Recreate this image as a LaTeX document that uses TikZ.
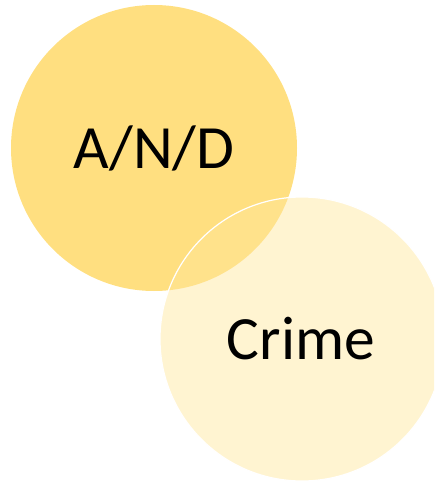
\documentclass[tikz,border=0pt]{standalone}
\usepackage{fontspec}
\setmainfont{Carlito}
\definecolor{gold}{HTML}{FFDF80}
\definecolor{paleg}{HTML}{FFE699}
\tikzset{
  lbl/.style={font=\fontsize{61.5}{64}\selectfont, text=black},
}
\begin{document}
\begin{tikzpicture}[x=1pt,y=-1pt]
\useasboundingbox (0,0) rectangle (434,481);
\clip (0,0) rectangle (434,481);
\fill[gold] (154,148) circle[radius=143];
\fill[paleg, fill opacity=0.45] (302,339) circle[radius=142];
\draw[white, line width=1.2pt] (302,339) circle[radius=142];
\node[lbl] (and) at (154,148) {A/N/D};
\node[lbl] (crime) at (301,339) {Crime};
\end{tikzpicture}
\end{document}
